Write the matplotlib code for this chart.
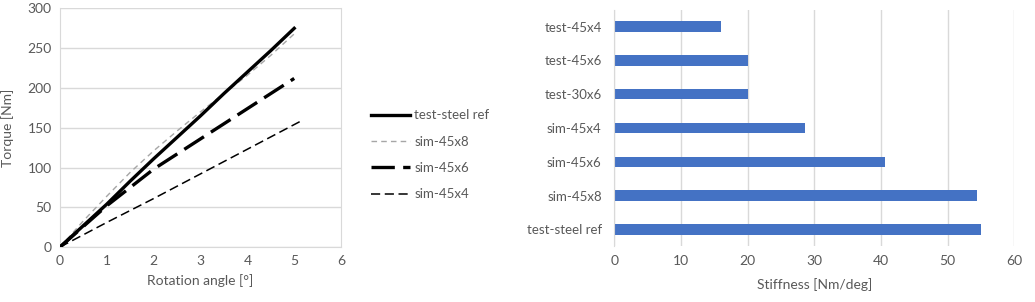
import numpy as np
import matplotlib
matplotlib.use("Agg")
import matplotlib.pyplot as plt

plt.rcParams['font.family'] = ['Lato', 'DejaVu Sans']

# Left chart: torque vs rotation angle
angle = [0, 0.5, 1, 1.5, 2, 2.5, 3, 3.5, 4, 4.5, 5]
steel_ref = [0, 27, 54, 83, 111, 138, 165, 193, 220, 247, 275]
sim_45x8 = [0, 33, 64, 94, 121, 146, 170, 193, 216, 241, 268]
sim_45x6 = [0, 26, 52, 75, 98, 117, 136, 155, 174, 193, 212]
angle_45x4 = [0, 1, 2, 3, 4, 5.13]
sim_45x4 = [0, 31, 61, 92, 123, 158]

# Right chart: stiffness
names = ['test-steel ref', 'sim-45x8', 'sim-45x6', 'sim-45x4',
         'test-30x6', 'test-45x6', 'test-45x4']
stiffness = [55.0, 54.45, 40.6, 28.65, 20.0, 20.0, 16.0]

text_col = '#595959'
grid_col = '#D9D9D9'

fig = plt.figure(figsize=(10.35, 3.02), dpi=100)

ax1 = fig.add_axes([0.058, 0.182, 0.2715, 0.790])
ax1.plot(angle, steel_ref, color='black', lw=2.4, label='test-steel ref', zorder=4)
ax1.plot(angle, sim_45x8, color='#A6A6A6', lw=1.0, dashes=(4, 3), label='sim-45x8', zorder=3)
ax1.plot(angle, sim_45x6, color='black', lw=2.4, dashes=(7, 2.5), label='sim-45x6', zorder=3)
ax1.plot(angle_45x4, sim_45x4, color='black', lw=1.1, dashes=(6, 3), label='sim-45x4', zorder=3)
ax1.set_xlim(0, 6)
ax1.set_ylim(0, 300)
ax1.set_xticks(range(0, 7))
ax1.set_yticks(range(0, 301, 50))
ax1.yaxis.grid(True, color=grid_col, lw=1)
ax1.set_axisbelow(True)
ax1.spines['top'].set_visible(False)
for s in ['left', 'right', 'bottom']:
    ax1.spines[s].set_color(grid_col)
ax1.tick_params(length=0, colors=text_col, labelsize=10, pad=6)
ax1.set_xlabel('Rotation angle [°]', color=text_col, fontsize=10, labelpad=5)
ax1.set_ylabel('Torque [Nm]', color=text_col, fontsize=10, labelpad=10)

leg = ax1.legend(loc='upper left', bbox_to_anchor=(0.353, 0.655), bbox_transform=fig.transFigure,
                 frameon=False, fontsize=9.5, handlelength=3.0, handletextpad=0.3,
                 labelspacing=1.08, borderaxespad=0)
for t in leg.get_texts():
    t.set_color(text_col)

ax2 = fig.add_axes([0.5935, 0.1848, 0.3865, 0.7827])
ypos = np.arange(len(names))
ax2.barh(ypos, stiffness, height=0.31, color='#4472C4')
ax2.set_yticks(ypos)
ax2.set_yticklabels(names)
ax2.set_ylim(-0.5, len(names) - 0.5)
ax2.set_xlim(0, 60)
ax2.set_xticks(range(0, 61, 10))
ax2.xaxis.grid(True, color=grid_col, lw=1)
ax2.set_axisbelow(True)
for s in ['top', 'right', 'bottom']:
    ax2.spines[s].set_visible(False)
ax2.spines['left'].set_color(grid_col)
ax2.tick_params(length=0, colors=text_col, labelsize=10, pad=6)
ax2.tick_params(axis='y', labelsize=9.5, pad=9)
ax2.set_xlabel('Stiffness [Nm/deg]', color=text_col, fontsize=10, labelpad=8)

fig.savefig('out.png', dpi=100)
